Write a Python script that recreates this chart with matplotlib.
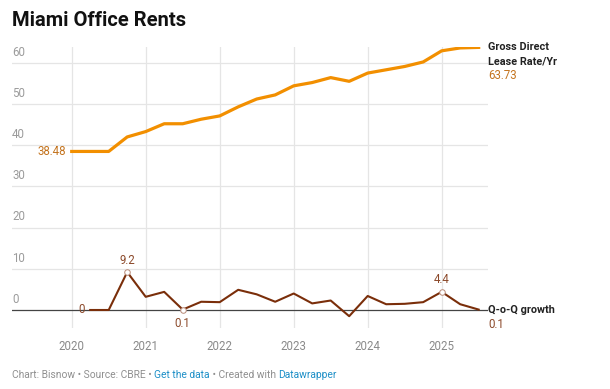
import matplotlib
matplotlib.use('Agg')
import matplotlib.pyplot as plt
import matplotlib.transforms as mtransforms
import numpy as np

# quarterly data, 2020 Q1 .. 2025 Q3
QUARTERS = np.arange(23) * 0.25 + 2020.0
LEASE_RATE = [38.48, 38.48, 38.48, 42.0, 43.3, 45.2, 45.2, 46.3, 47.1, 49.3, 51.2, 52.2,
              54.4, 55.2, 56.4, 55.5, 57.5, 58.3, 59.1, 60.2, 62.9, 63.6, 63.73]
QOQ_GROWTH = [np.nan, 0, 0, 9.2, 3.2, 4.4, 0.1, 2.0, 1.9, 4.9, 3.8, 2.0,
              4.0, 1.6, 2.3, -1.5, 3.4, 1.4, 1.5, 1.9, 4.4, 1.4, 0.1]
HIGHLIGHT = [3, 6, 20]   # points labelled with hollow circles
YEARS = [2020, 2021, 2022, 2023, 2024, 2025]
Y_TICKS = [0, 10, 20, 30, 40, 50, 60]

ORANGE = '#f28f00'
ORANGE_TXT = '#c4741f'
BROWN = '#7a2e0a'
BROWN_TXT = '#8c4a2b'
GRID = '#e5e5e5'
TICK = '#9b9b9b'
DARK = '#222222'

plt.rcParams['font.family'] = ['Roboto', 'DejaVu Sans']

fig = plt.figure(figsize=(6.1, 3.89), dpi=100)
ax = fig.add_axes([12 / 610, 1 - 328 / 389, 476 / 610, (328 - 46.7) / 389])
ax.set_xlim(2019.193, 2025.626)
ax.set_ylim(-4.37, 63.9)
for s in ax.spines.values():
    s.set_visible(False)
ax.set_xticks([])
ax.set_yticks([])

blend = mtransforms.blended_transform_factory(ax.transAxes, ax.transData)
for v in Y_TICKS:
    if v != 0:
        ax.axhline(v, color=GRID, lw=0.9, zorder=0)
    ax.annotate(str(v), xy=(0, v), xycoords=blend, xytext=(0, 3), textcoords='offset points',
                ha='left', va='bottom', fontsize=8.3, color=TICK)
ax.axhline(0, color='#444444', lw=0.9, zorder=1)

for yr in YEARS:
    ax.axvline(yr, color=GRID, lw=0.9, zorder=0)
    ax.annotate(str(yr), xy=(yr, 0), xycoords=('data', 'axes fraction'), xytext=(0, -9),
                textcoords='offset points', ha='center', va='top', fontsize=8.3, color='#8a8a8a')

ax.plot(QUARTERS, LEASE_RATE, color=ORANGE, lw=2.3, solid_joinstyle='round', zorder=3)
ax.plot(QUARTERS, QOQ_GROWTH, color=BROWN, lw=1.5, solid_joinstyle='round', zorder=3)
ax.scatter(QUARTERS[HIGHLIGHT], [QOQ_GROWTH[i] for i in HIGHLIGHT], s=16, facecolor='white',
           edgecolor='#b88a78', lw=0.7, zorder=4)

# value labels
ax.annotate(f'{LEASE_RATE[0]:.2f}', xy=(QUARTERS[0], LEASE_RATE[0]), xytext=(-4, 0),
            textcoords='offset points', ha='right', va='center', fontsize=8.3, color=ORANGE_TXT)
ax.annotate(f'{QOQ_GROWTH[1]:.0f}', xy=(QUARTERS[1], QOQ_GROWTH[1]), xytext=(-4, 0),
            textcoords='offset points', ha='right', va='center', fontsize=8.3, color=BROWN_TXT)
for i, dy in zip(HIGHLIGHT, [4, -5, 4]):
    ax.annotate(f'{QOQ_GROWTH[i]:.1f}', xy=(QUARTERS[i], QOQ_GROWTH[i]), xytext=(0, dy),
                textcoords='offset points', ha='center', va='bottom' if dy > 0 else 'top',
                fontsize=8.3, color=BROWN_TXT)

# series labels on the right
for txt, dy, kw in [('Gross Direct', 0, dict(fontweight='bold', color=DARK, fontsize=7.8)),
                    ('Lease Rate/Yr', -10.2, dict(fontweight='bold', color=DARK, fontsize=7.8)),
                    (f'{LEASE_RATE[-1]:.2f}', -20.4, dict(color=ORANGE_TXT, fontsize=8.3))]:
    ax.annotate(txt, xy=(1, LEASE_RATE[-1]), xycoords=blend, xytext=(0, dy),
                textcoords='offset points', ha='left', va='center', **kw)
ax.annotate('Q-o-Q growth', xy=(1, 0), xycoords=blend, xytext=(0, 0),
            textcoords='offset points', ha='left', va='center',
            fontsize=7.8, fontweight='bold', color=DARK)
ax.annotate(f'{QOQ_GROWTH[-1]:.1f}', xy=(1, 0), xycoords=blend, xytext=(0, -10.2),
            textcoords='offset points', ha='left', va='center', fontsize=8.3, color=BROWN_TXT)

fig.text(12 / 610, 1 - 20 / 389, 'Miami Office Rents', ha='left', va='center',
         fontsize=14.5, fontweight='bold', color='#111111')

# footer
parts = [('Chart: Bisnow • Source: CBRE • ', '#8f8f8f'), ('Get the data', '#1d8fc7'),
         (' • Created with ', '#8f8f8f'), ('Datawrapper', '#1d8fc7')]
fig.canvas.draw()
r = fig.canvas.get_renderer()
x = 12 / 610
for txt, col in parts:
    t = fig.text(x, 1 - 375 / 389, txt, ha='left', va='center', fontsize=7.4, color=col)
    bb = t.get_window_extent(renderer=r)
    x += bb.width / fig.bbox.width

fig.savefig('out.png', dpi=100)
